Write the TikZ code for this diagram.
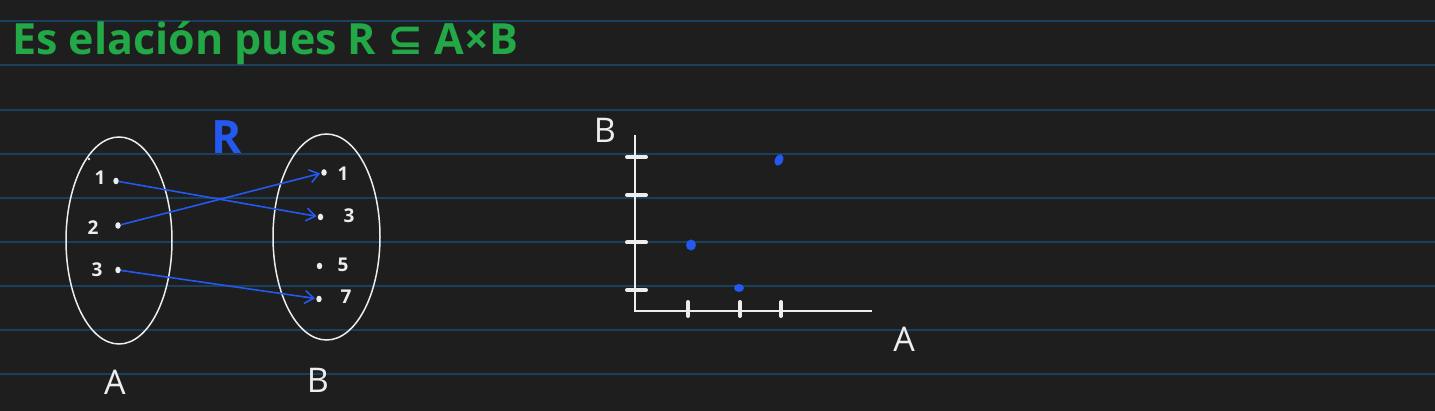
\documentclass[tikz,border=0pt]{standalone}
\usepackage{fontspec}
\setmainfont{Open Sans}
\newfontfamily\symfont{DejaVu Sans}
\usetikzlibrary{arrows.meta,shapes.geometric}
\definecolor{bg}{HTML}{1E1E1E}
\definecolor{rulec}{HTML}{1A4060}
\definecolor{ink}{HTML}{EDEDED}
\definecolor{blueink}{HTML}{2459F0}
\definecolor{greenink}{HTML}{22A846}
\begin{document}
\begin{tikzpicture}[x=1pt,y=-1pt,
  ruleline/.style={draw=rulec,line width=1.1pt},
  setell/.style={draw=ink,line width=1.5pt,ellipse,inner sep=0pt},
  eltdot/.style={fill=ink,ellipse,inner sep=0pt,minimum width=5.5pt,minimum height=6.5pt},
  eltlab/.style={text=ink,font=\fontsize{19}{20}\selectfont\bfseries,inner sep=0pt},
  setlab/.style={text=ink,font=\fontsize{34}{36}\selectfont,inner sep=0pt},
  rel/.style={draw=blueink,line width=1.6pt,-{Straight Barb[length=9pt,width=13pt,line width=1.6pt]},shorten >=1pt},
  axis/.style={draw=ink,line width=2pt},
  tickm/.style={draw=ink,line width=4pt,line cap=round},
  gpt/.style={fill=blueink,ellipse,inner sep=0pt}
]
\fill[bg] (0,0) rectangle (1435,411);
\useasboundingbox (0,0) rectangle (1435,411);
% ruled lines
\foreach \yy in {21,65,110,154,198,242,286,330,374}
  \draw[ruleline] (0,\yy) -- (1435,\yy);
% title
\node[anchor=base west,text=greenink,font=\fontsize{43}{45}\selectfont\bfseries,inner sep=0pt] (title) at (12,55)
  {Es elación pues R {\symfont\bfseries ⊆} A×B};
% sets
\node[setell,minimum width=106pt,minimum height=207pt] (setA) at (119,240.5) {};
\node[setell,minimum width=107pt,minimum height=206pt] (setB) at (326.5,237) {};
\node[setlab] (labA) at (115,382) {A};
\node[setlab] (labB) at (318,380) {B};
\node[text=blueink,font=\fontsize{46}{48}\selectfont\bfseries,inner sep=0pt] (labR) at (227,137) {R};
\fill[ink] (89,159) circle (1.3pt);
% elements of A
\node[eltlab] (n1) at (100,178) {1};
\node[eltlab] (n2) at (93,228) {2};
\node[eltlab] (n3) at (97,270) {3};
\node[eltdot] (a1) at (116,181) {};
\node[eltdot] (a2) at (118,225.5) {};
\node[eltdot] (a3) at (118,270) {};
% elements of B
\node[eltdot] (b1) at (324,172.5) {};
\node[eltdot] (b3) at (320.5,217) {};
\node[eltdot] (b5) at (319.5,266) {};
\node[eltdot] (b7) at (319,299) {};
\node[eltlab] (m1) at (343,174) {1};
\node[eltlab] (m3) at (349,216) {3};
\node[eltlab] (m5) at (343,265) {5};
\node[eltlab] (m7) at (346,297) {7};
% relation arrows
\draw[rel] (a1) -- (b3);
\draw[rel] (a2) -- (b1);
\draw[rel] (a3) -- (b7);
% graph
\coordinate (ytop) at (635,135);
\coordinate (orig) at (635,311);
\coordinate (xend) at (872,311);
\draw[axis] (ytop) -- (orig) -- (xend);
\foreach \yy in {157,195,242.5,290}
  \draw[tickm] (627,\yy) -- (646,\yy);
\foreach \xx in {688,740,781}
  \draw[tickm] (\xx,302) -- (\xx,316);
\node[setlab] (gB) at (605,130) {B};
\node[setlab] (gA) at (904,339) {A};
\node[gpt,minimum width=8pt,minimum height=12pt,rotate=-25] (p1) at (779,160) {};
\node[gpt,minimum width=10pt,minimum height=11pt] (p2) at (691,245) {};
\node[gpt,minimum width=10pt,minimum height=8pt] (p3) at (739,288) {};
\end{tikzpicture}
\end{document}
